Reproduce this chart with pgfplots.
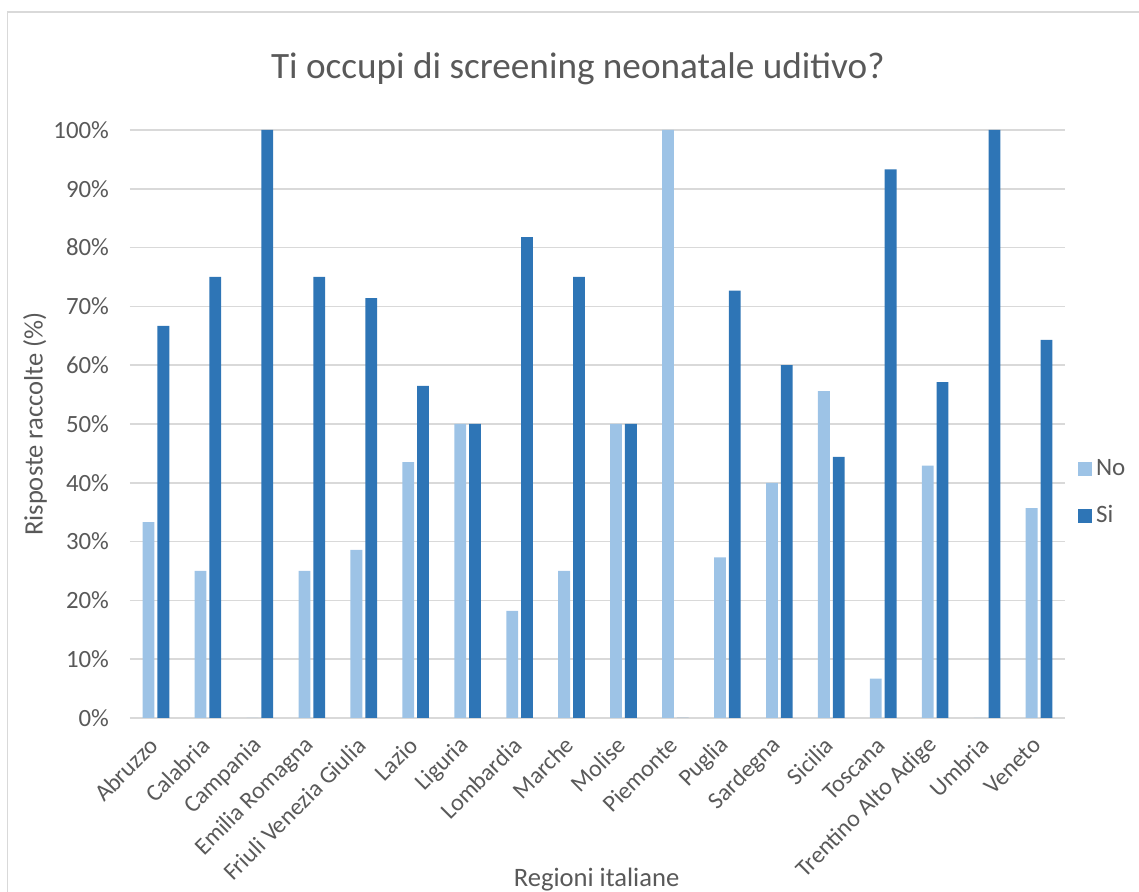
\documentclass[border=0pt]{standalone}
\usepackage{pgfplots}
\pgfplotsset{compat=1.18}
\usepackage{fontspec}
\setmainfont{Carlito}
\definecolor{nocol}{HTML}{9DC3E6}
\definecolor{sicol}{HTML}{2E75B6}
\definecolor{txt}{HTML}{595959}
\definecolor{gridc}{HTML}{D9D9D9}
\begin{document}
\begin{tikzpicture}[x=1pt,y=1pt]
\useasboundingbox (-65,-87) rectangle (504.5,359);
\draw[gridc, line width=0.8pt] (-61.2,-100) -- (-61.2,353) -- (520,353);
\begin{axis}[
  width=467.5pt, height=294pt, scale only axis,
  ybar=1.5pt, bar width=5.9pt,
  xmin=-0.5, xmax=17.5, ymin=0, ymax=100,
  xtick=data,
  xticklabels={Abruzzo,Calabria,Campania,Emilia Romagna,Friuli Venezia Giulia,Lazio,Liguria,Lombardia,Marche,Molise,Piemonte,Puglia,Sardegna,Sicilia,Toscana,Trentino Alto Adige,Umbria,Veneto},
  xticklabel style={xshift=1.5pt, yshift=-9.3pt, rotate=45, anchor=east, font=\fontsize{12}{14}\selectfont, text=txt},
  ytick={0,10,...,100},
  yticklabel={\pgfmathprintnumber{\tick}\%},
  yticklabel style={font=\fontsize{12.4}{14}\selectfont, text=txt, xshift=-7pt},
  /pgf/number format/assume math mode=true,
  ymajorgrids, grid style={gridc, line width=0.8pt},
  axis line style={draw=none},
  major tick length=0pt,
  title={Ti occupi di screening neonatale uditivo?},
  title style={at={(axis description cs:0.479,1.083)}, anchor=center, yshift=0pt, font=\fontsize{18.6}{22}\selectfont, text=txt},
  xlabel={Regioni italiane},
  xlabel style={at={(axis description cs:0.499,-0.2755)}, anchor=center, font=\fontsize{13.3}{15}\selectfont, text=txt},
  ylabel={Risposte raccolte (\%)},
  ylabel style={at={(axis description cs:-0.1016,0.5)}, anchor=center, rotate=0, font=\fontsize{13.3}{15}\selectfont, text=txt},
  legend style={at={(axis description cs:1.0135,0.447)}, anchor=north west, draw=none, fill=none, font=\fontsize{12.5}{14}\selectfont, text=txt, row sep=9.5pt, inner sep=0pt},
  legend cell align=left,
  legend image code/.code={\fill (0pt,-3.5pt) rectangle (7pt,3.5pt);},
]
\addplot[fill=nocol, draw=none] coordinates {
(0,33.3) (1,25) (2,0) (3,25) (4,28.6) (5,43.5) (6,50) (7,18.2) (8,25) (9,50) (10,100) (11,27.3) (12,40) (13,55.6) (14,6.7) (15,42.9) (16,0) (17,35.7)};
\addplot[fill=sicol, draw=none] coordinates {
(0,66.7) (1,75) (2,100) (3,75) (4,71.4) (5,56.5) (6,50) (7,81.8) (8,75) (9,50) (10,0) (11,72.7) (12,60) (13,44.4) (14,93.3) (15,57.1) (16,100) (17,64.3)};
\legend{No,Si}
\end{axis}
\end{tikzpicture}
\end{document}
